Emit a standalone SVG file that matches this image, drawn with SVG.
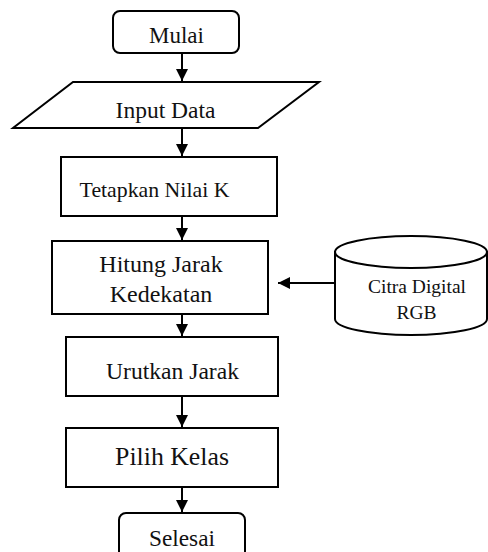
<svg xmlns="http://www.w3.org/2000/svg" width="488" height="552" viewBox="0 0 488 552">
<defs>
<style>
.s{fill:#fff;stroke:#000;stroke-width:2}
.t{font-family:"Liberation Serif","Times New Roman",serif;fill:#111;text-anchor:middle}
.c{stroke:#000;stroke-width:2;fill:none}
</style>
<marker id="ah" markerWidth="13" markerHeight="12" refX="12" refY="6" orient="auto" markerUnits="userSpaceOnUse">
<path d="M0,0 L12,6 L0,12 Z" fill="#000"/>
</marker>
</defs>
<rect width="488" height="552" fill="#fff"/>
<g id="connectors">
<line class="c" x1="182" y1="53" x2="182" y2="81" marker-end="url(#ah)"/>
<line class="c" x1="182" y1="128" x2="182" y2="156" marker-end="url(#ah)"/>
<line class="c" x1="182" y1="216" x2="182" y2="240" marker-end="url(#ah)"/>
<line class="c" x1="182" y1="314" x2="182" y2="336" marker-end="url(#ah)"/>
<line class="c" x1="182" y1="396" x2="182" y2="427" marker-end="url(#ah)"/>
<line class="c" x1="182" y1="487" x2="182" y2="512" marker-end="url(#ah)"/>
<line class="c" x1="335" y1="283" x2="278" y2="283" marker-end="url(#ah)"/>
</g>
<g id="mulai">
<rect class="s" x="113" y="11" width="126" height="42" rx="7"/>
<text class="t" x="176.5" y="43" font-size="23">Mulai</text>
</g>
<g id="input-data">
<polygon class="s" points="73,82 319,82 258,128 13,128"/>
<text class="t" x="165.5" y="118" font-size="23.5">Input Data</text>
</g>
<g id="tetapkan">
<rect class="s" x="61" y="157" width="216" height="59"/>
<text class="t" x="154.5" y="197" font-size="21.8">Tetapkan Nilai K</text>
</g>
<g id="hitung">
<rect class="s" x="52" y="241" width="216" height="73"/>
<text class="t" x="161" y="272" font-size="24">Hitung Jarak</text>
<text class="t" x="161" y="302" font-size="24">Kedekatan</text>
</g>
<g id="citra">
<path class="s" d="M335,252 L335,319 A76,16 0 0 0 487,319 L487,252 Z"/>
<ellipse class="s" cx="411" cy="252" rx="76" ry="16"/>
<text class="t" x="417" y="293" font-size="19.5">Citra Digital</text>
<text class="t" x="416.5" y="319" font-size="19.5">RGB</text>
</g>
<g id="urutkan">
<rect class="s" x="66" y="337" width="212" height="59"/>
<text class="t" x="172.5" y="379" font-size="23.6">Urutkan Jarak</text>
</g>
<g id="pilih">
<rect class="s" x="66" y="428" width="212" height="59"/>
<text class="t" x="172" y="465" font-size="25.8">Pilih Kelas</text>
</g>
<g id="selesai">
<rect class="s" x="119" y="513" width="126" height="60" rx="7"/>
<text class="t" x="182" y="546" font-size="23.3">Selesai</text>
</g>
</svg>
